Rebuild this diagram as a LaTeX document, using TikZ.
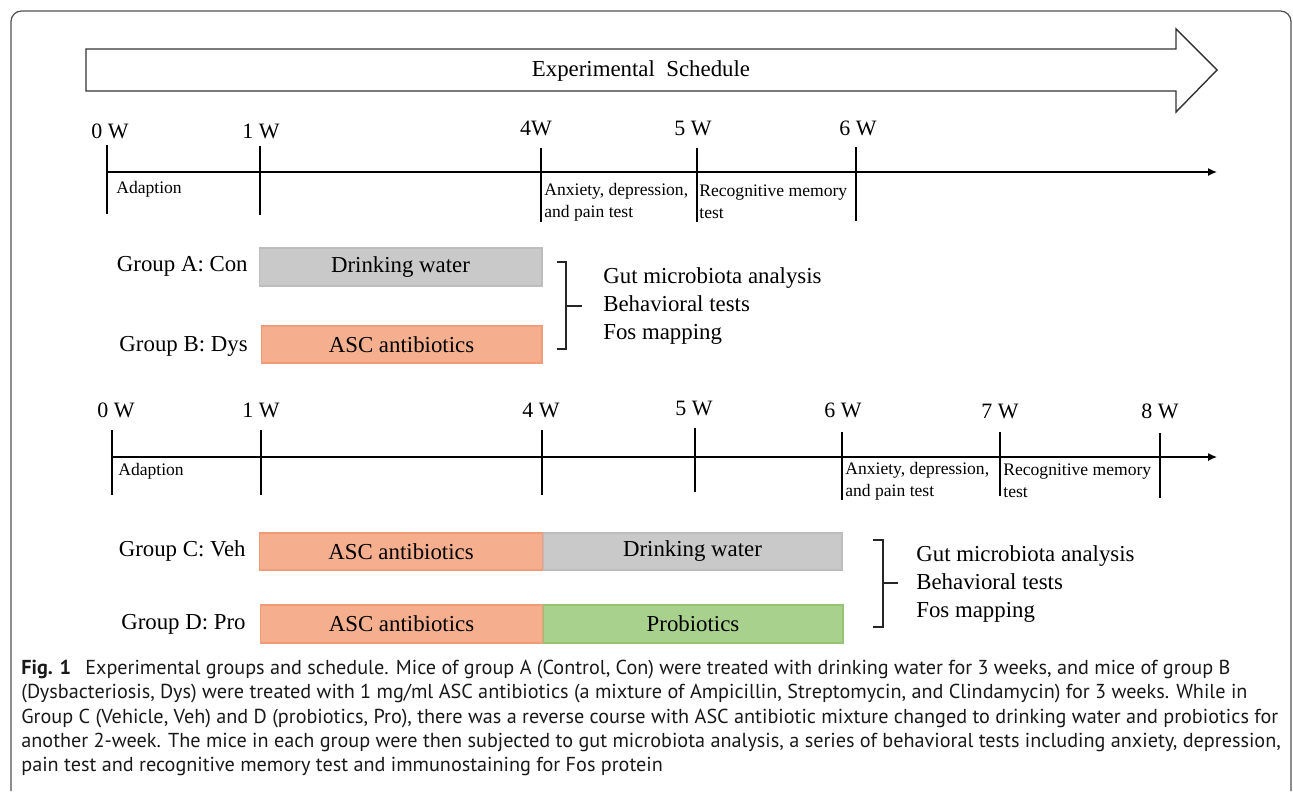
\documentclass[tikz,border=0pt]{standalone}
\usepackage{fontspec}
\setmainfont{Liberation Serif}
\newfontfamily\capfont{PT Sans}
\usetikzlibrary{arrows.meta}

\definecolor{waterfill}{HTML}{C9C9C9}
\definecolor{waterline}{HTML}{BDBDBD}
\definecolor{abxfill}{HTML}{F5AF8E}
\definecolor{abxline}{HTML}{F09C78}
\definecolor{profill}{HTML}{A9D18E}
\definecolor{proline}{HTML}{93C474}
\definecolor{framegray}{HTML}{505050}

\tikzset{
  weeklbl/.style={font=\fontsize{12.5}{14}\selectfont, inner sep=0pt},
  notelbl/.style={font=\fontsize{10}{12.5}\selectfont, align=left, inner sep=0pt, anchor=west},
  grouplbl/.style={font=\fontsize{13}{15}\selectfont, inner sep=0pt, anchor=east},
  outlbl/.style={font=\fontsize{13}{16.2}\selectfont, align=left, inner sep=0pt, anchor=west},
  phase/.style={font=\fontsize{13}{15}\selectfont, inner sep=0pt, line width=0.6pt},
  axis/.style={line width=0.8pt, -{Latex[length=5pt,width=4.5pt]}},
  tickln/.style={line width=0.8pt},
  brack/.style={line width=0.8pt, color=black!85}
}

\begin{document}
\begin{tikzpicture}[x=0.02cm, y=-0.02cm]
	\useasboundingbox (0,0) rectangle (1293,791);

	% outer frame
	\draw[framegray, line width=0.7pt, rounded corners=6pt] (11,791) -- (11,11) -- (1291,11) -- (1291,791);

	% schedule arrow
	\draw[line width=0.8pt, color=black!80] (86,49) -- (1176,49) -- (1176,29) -- (1217,70)
		-- (1176,112) -- (1176,91) -- (86,91) -- cycle;
	\node[font=\fontsize{13}{15}\selectfont] (sched) at (641,71) {Experimental\ \ Schedule};

	% first time line
	\coordinate (axAs) at (107,172);
	\coordinate (axAe) at (1217,172);
	\draw[axis] (axAs) -- (axAe);
	\draw[tickln] (107,145) -- (107,214);
	\draw[tickln] (260,146) -- (260,215);
	\draw[tickln] (541,148) -- (541,222);
	\draw[tickln] (697,148) -- (697,222);
	\draw[tickln] (856,147) -- (856,221);

	\node[weeklbl] (wA0) at (110,131) {0 W};
	\node[weeklbl] (wA1) at (261,131) {1 W};
	\node[weeklbl] (wA4) at (536,128) {4W};
	\node[weeklbl] (wA5) at (693,128) {5 W};
	\node[weeklbl] (wA6) at (858,128) {6 W};

	\node[notelbl] (adA) at (116,189) {Adaption};
	\node[notelbl] (anxA) at (544,202) {Anxiety, depression,\\and pain test};
	\node[notelbl] (recA) at (699,202) {Recognitive memory\\test};

	% groups A and B
	\node[grouplbl] (gA) at (248,266) {Group A: Con};
	\node[grouplbl] (gB) at (248,346) {Group B: Dys};
	\node[phase, fill=waterfill, draw=waterline, minimum width=5.66cm, minimum height=0.76cm] (dwA) at (400.5,267) {Drinking water};
	\node[phase, fill=abxfill, draw=abxline, minimum width=5.62cm, minimum height=0.74cm] (abB) at (401.5,344.5) {ASC antibiotics};

	\draw[brack] (557,262) -- (566,262) -- (566,349) -- (557,349);
	\draw[brack] (566,306) -- (582,306);
	\node[outlbl] (outAB) at (603,306) {Gut microbiota analysis\\Behavioral tests\\Fos mapping};

	% second time line
	\coordinate (axBs) at (112,457);
	\coordinate (axBe) at (1217,457);
	\draw[axis] (axBs) -- (axBe);
	\draw[tickln] (112,430) -- (112,495);
	\draw[tickln] (261,430) -- (261,495);
	\draw[tickln] (542,430) -- (542,495);
	\draw[tickln] (695,428) -- (695,492);
	\draw[tickln] (842,432) -- (842,500);
	\draw[tickln] (1000,432) -- (1000,496);
	\draw[tickln] (1160,433) -- (1160,498);

	\node[weeklbl] (wB0) at (116,410) {0 W};
	\node[weeklbl] (wB1) at (261,410) {1 W};
	\node[weeklbl] (wB4) at (541,410) {4 W};
	\node[weeklbl] (wB5) at (694,408) {5 W};
	\node[weeklbl] (wB6) at (843,410) {6 W};
	\node[weeklbl] (wB7) at (1000,411) {7 W};
	\node[weeklbl] (wB8) at (1160,411) {8 W};

	\node[notelbl] (adB) at (118,471) {Adaption};
	\node[notelbl] (anxB) at (845,481) {Anxiety, depression,\\and pain test};
	\node[notelbl] (recB) at (1003,481) {Recognitive memory\\test};

	% groups C and D
	\node[grouplbl] (gC) at (246,551) {Group C: Veh};
	\node[grouplbl] (gD) at (246,624) {Group D: Pro};
	\node[phase, fill=abxfill, draw=abxline, minimum width=5.68cm, minimum height=0.74cm] (abC) at (401,551.5) {ASC antibiotics};
	\node[phase, fill=waterfill, draw=waterline, minimum width=5.98cm, minimum height=0.74cm] (dwC) at (692.5,551.5) {Drinking water};
	\node[phase, fill=abxfill, draw=abxline, minimum width=5.66cm, minimum height=0.76cm] (abD) at (401.5,624) {ASC antibiotics};
	\node[phase, fill=profill, draw=proline, minimum width=6.0cm, minimum height=0.76cm] (prD) at (693,624) {Probiotics};

	\draw[brack] (873,540) -- (883,540) -- (883,627) -- (873,627);
	\draw[brack] (883,583) -- (898,583);
	\node[outlbl] (outCD) at (916,584) {Gut microbiota analysis\\Behavioral tests\\Fos mapping};

	% caption
	\node[anchor=north west, inner sep=0pt, align=left, font=\capfont\fontsize{11.5}{13.75}\selectfont, text=black!90] (cap) at (21,660) {%
		\textbf{Fig. 1}\hspace{0.7em}Experimental groups and schedule. Mice of group A (Control, Con) were treated with drinking water for 3 weeks, and mice of group B\\
		(Dysbacteriosis, Dys) were treated with 1 mg/ml ASC antibiotics (a mixture of Ampicillin, Streptomycin, and Clindamycin) for 3 weeks. While in\\
		Group C (Vehicle, Veh) and D (probiotics, Pro), there was a reverse course with ASC antibiotic mixture changed to drinking water and probiotics for\\
		another 2-week. The mice in each group were then subjected to gut microbiota analysis, a series of behavioral tests including anxiety, depression,\\
		pain test and recognitive memory test and immunostaining for Fos protein};
\end{tikzpicture}
\end{document}
